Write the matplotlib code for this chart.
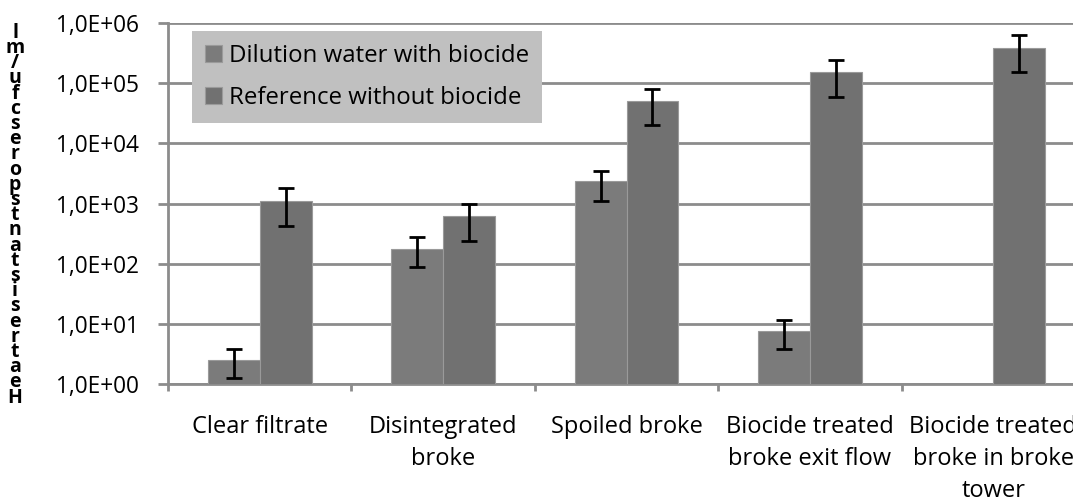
import numpy as np
import matplotlib.pyplot as plt

categories = ["Clear filtrate", "Disintegrated\nbroke", "Spoiled broke",
              "Biocide treated\nbroke exit flow", "Biocide treated\nbroke in broke\ntower"]

# dilution water with biocide (no value for last category)
dil_vals = [2.5, 175, 2350, 7.6, np.nan]
dil_low = [1.26, 88, 1100, 3.8, np.nan]
dil_high = [3.8, 277, 3450, 11.6, np.nan]

# reference without biocide
ref_vals = [1100, 620, 50000, 155000, 383000]
ref_low = [425, 240, 20000, 59000, 155000]
ref_high = [1820, 990, 80000, 240000, 630000]

ytick_vals = [1e0, 1e1, 1e2, 1e3, 1e4, 1e5, 1e6]
ytick_labels = ["1,0E+00", "1,0E+01", "1,0E+02", "1,0E+03", "1,0E+04", "1,0E+05", "1,0E+06"]

plt.rcParams["font.family"] = ["Open Sans", "DejaVu Sans"]

fig = plt.figure(figsize=(10.73, 5.04), dpi=100)
ax = fig.add_axes([168 / 1073, 1 - 384 / 504, (1085 - 168) / 1073, (384 - 23) / 504])

x = np.arange(len(categories))
w = 0.283

def yerr(vals, lo, hi):
    v = np.array(vals)
    return np.vstack([v - np.array(lo), np.array(hi) - v])

ax.bar(x - w / 2, dil_vals, width=w, color="#7b7b7b", edgecolor="#9a9a9a",
       linewidth=0.8, label="Dilution water with biocide", zorder=3)
ax.bar(x + w / 2, ref_vals, width=w, color="#717171", edgecolor="#9a9a9a",
       linewidth=0.8, label="Reference without biocide", zorder=3)
ax.errorbar(x - w / 2, dil_vals, yerr=yerr(dil_vals, dil_low, dil_high), fmt="none",
            ecolor="black", elinewidth=2, capsize=5.5, capthick=2, zorder=4)
ax.errorbar(x + w / 2, ref_vals, yerr=yerr(ref_vals, ref_low, ref_high), fmt="none",
            ecolor="black", elinewidth=2, capsize=5.5, capthick=2, zorder=4)

ax.set_yscale("log")
ax.set_ylim(1, 1e6)
ax.set_yticks(ytick_vals)
ax.set_yticklabels(ytick_labels, fontsize=16.3)
ax.yaxis.set_minor_locator(plt.NullLocator())
ax.set_xlim(-0.5, len(categories) - 0.5)

ax.set_xticks(x)
ax.set_xticklabels(categories, fontsize=17, linespacing=1.45)
ax.tick_params(axis="x", length=0, pad=22)
ax.set_xticks(np.arange(len(categories) + 1) - 0.5, minor=True)
ax.tick_params(axis="x", which="minor", length=5, width=2, color="#8c8c8c")
ax.tick_params(axis="y", length=7, width=2, color="#8c8c8c", pad=14)

ax.grid(axis="y", color="#8c8c8c", linewidth=2, zorder=0)
for s in ["top", "right"]:
    ax.spines[s].set_visible(False)
for s in ["left", "bottom"]:
    ax.spines[s].set_color("#8c8c8c")
    ax.spines[s].set_linewidth(2)

leg = ax.legend(loc="upper left", bbox_to_anchor=(0.026, 0.978), borderaxespad=0,
                fontsize=17.3, frameon=True, fancybox=False, facecolor="#c0c0c0",
                edgecolor="none", framealpha=1, handlelength=0.7, handleheight=0.7,
                handletextpad=0.3, borderpad=0.55, labelspacing=0.75)
leg.set_zorder(5)

ylab = "Heat resistant spores cfu/ml".replace(" ", "")[::-1]
fig.text(0.014, 0.573, "\n".join(ylab), fontsize=14, fontweight="bold",
         ha="center", va="center", linespacing=0.68)

fig.savefig("out.png", dpi=100)
